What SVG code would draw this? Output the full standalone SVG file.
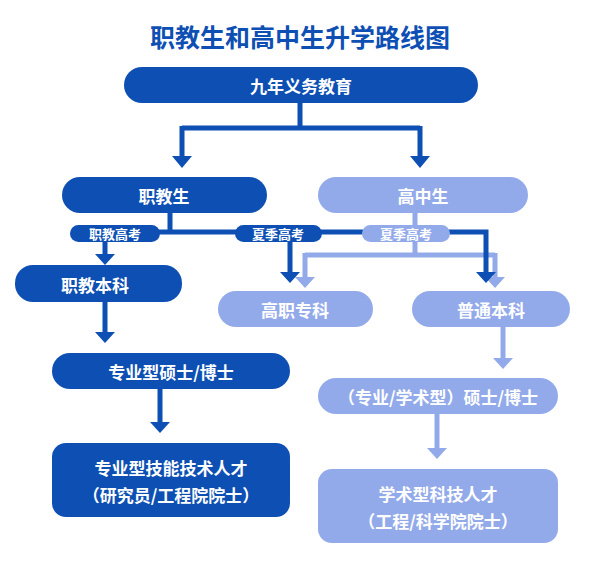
<svg xmlns="http://www.w3.org/2000/svg" width="600" height="561" viewBox="0 0 600 561">
<defs>
<marker id="ad" viewBox="0 0 10 10" refX="5" refY="8" markerWidth="4" markerHeight="3" orient="auto-start-reverse" markerUnits="strokeWidth"><path d="M0,0 L10,5 L0,10 Z" fill="#0d4fb3" transform="rotate(0)"/></marker>
</defs>
<style>
.d{fill:#0d4fb3}.l{fill:#93aaea}
.t{fill:#fff;font-family:"Noto Sans CJK SC",sans-serif;font-weight:bold;text-anchor:middle;dominant-baseline:central}
.cd{stroke:#0d4fb3;stroke-width:5;fill:none}.cl{stroke:#93aaea;stroke-width:5;fill:none}
</style>
<rect width="600" height="561" fill="#fff"/>
<text x="300" y="36" font-family="Noto Sans CJK SC,sans-serif" font-weight="bold" font-size="25" fill="#0d4fb3" text-anchor="middle" dominant-baseline="central">职教生和高中生升学路线图</text>
<g id="connectors">
<path class="cd" d="M300,102 V128 M182,128 H420 M182,126 V158 M420,126 V158"/>
<path d="M172,156 h20 l-10,12 z M410,156 h20 l-10,12 z" fill="#0d4fb3"/>
<path class="cl" d="M415,213 V255 M305,255 H495 M305,253 V279 M495,253 V279"/>
<path d="M295,277 h20 l-10,11 z M485,277 h20 l-10,11 z" fill="#93aaea"/>
<path class="cd" d="M170,213 V232 M105,232 H486 V275 M105,240 V256 M290,240 V274"/>
<path d="M95,254 h20 l-10,11 z M280,272 h20 l-10,11 z M476,272 h20 l-10,11 z" fill="#0d4fb3"/>
<path class="cd" d="M105,302 V334"/><path d="M95,332 h20 l-10,11 z" fill="#0d4fb3"/>
<path class="cd" d="M160,388 V424"/><path d="M150,422 h20 l-10,11 z" fill="#0d4fb3"/>
<path class="cl" d="M503,327 V360"/><path d="M493,358 h20 l-10,11 z" fill="#93aaea"/>
<path class="cl" d="M437,414 V450"/><path d="M427,448 h20 l-10,11 z" fill="#93aaea"/>
</g>
<g id="n1"><rect class="d" x="124" y="67" width="354" height="36" rx="18"/><text class="t" x="301" y="85" font-size="17">九年义务教育</text></g>
<g id="n2"><rect class="d" x="62" y="177" width="205" height="36" rx="18"/><text class="t" x="164" y="195" font-size="17">职教生</text></g>
<g id="n3"><rect class="l" x="318" y="177" width="210" height="36" rx="18"/><text class="t" x="423" y="195" font-size="17">高中生</text></g>
<g id="p1"><rect class="d" x="70" y="225" width="90" height="17" rx="8.5"/><text class="t" x="115" y="233.5" font-size="13">职教高考</text></g>
<g id="p2"><rect class="d" x="235" y="225" width="87" height="17" rx="8.5"/><text class="t" x="278" y="233.5" font-size="13">夏季高考</text></g>
<g id="p3"><rect class="l" x="362" y="225" width="88" height="17" rx="8.5"/><text class="t" x="406" y="233.5" font-size="13">夏季高考</text></g>
<g id="n4"><rect class="d" x="15" y="265" width="167" height="37" rx="18"/><text class="t" x="95" y="284" font-size="17">职教本科</text></g>
<g id="n5"><rect class="l" x="218" y="291" width="155" height="36" rx="18"/><text class="t" x="295" y="309" font-size="17">高职专科</text></g>
<g id="n6"><rect class="l" x="412" y="291" width="158" height="36" rx="18"/><text class="t" x="491" y="309" font-size="17">普通本科</text></g>
<g id="n7"><rect class="d" x="52" y="353" width="238" height="36" rx="18"/><text class="t" x="171" y="371" font-size="17">专业型硕士/博士</text></g>
<g id="n8"><rect class="l" x="318" y="378" width="240" height="36" rx="18"/><text class="t" x="438" y="396" font-size="17">（专业/学术型）硕士/博士</text></g>
<g id="n9"><rect class="d" x="52" y="443" width="238" height="74" rx="14"/><text class="t" x="171" y="467" font-size="17">专业型技能技术人才</text><text class="t" x="171" y="494" font-size="17">（研究员/工程院院士）</text></g>
<g id="n10"><rect class="l" x="318" y="469" width="240" height="74" rx="14"/><text class="t" x="438" y="493" font-size="17">学术型科技人才</text><text class="t" x="438" y="520" font-size="17">（工程/科学院院士）</text></g>
</svg>
